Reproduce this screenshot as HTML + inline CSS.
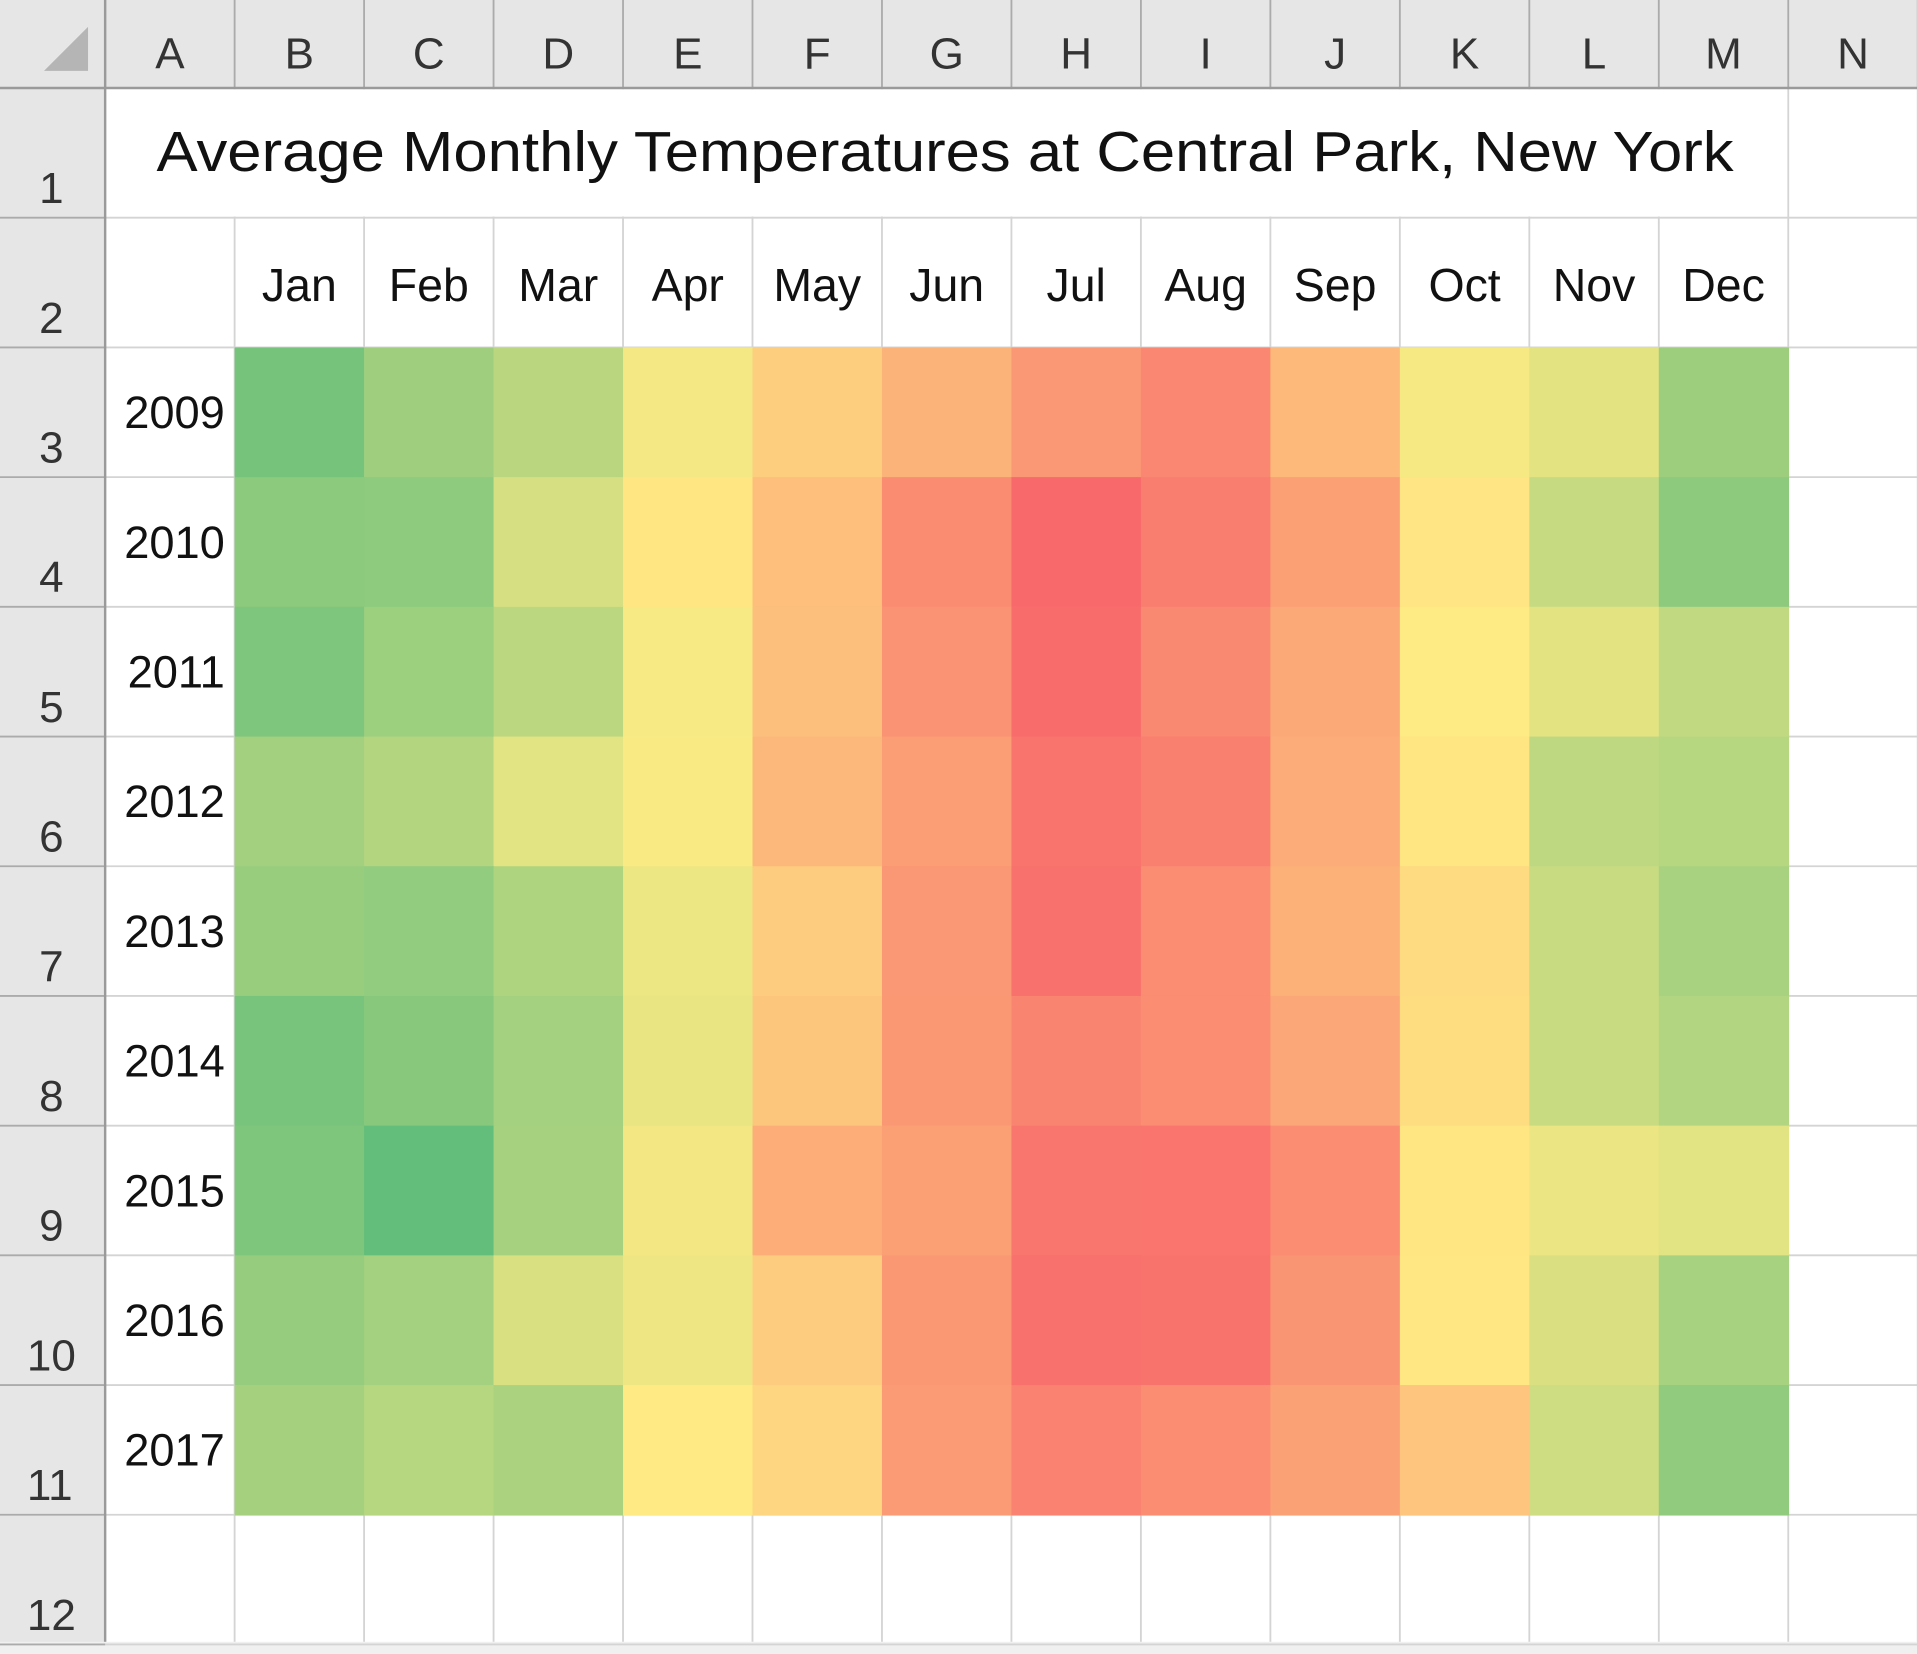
<!DOCTYPE html>
<html><head><meta charset="utf-8"><style>
html,body{margin:0;padding:0;background:#fff;}
svg{display:block;}
</style></head><body>
<svg id="sheet" width="1917" height="1654" viewBox="0 0 1568 1353" preserveAspectRatio="none" xmlns="http://www.w3.org/2000/svg" font-family="'Liberation Sans', sans-serif"></svg>
<script>
const months = ["Jan","Feb","Mar","Apr","May","Jun","Jul","Aug","Sep","Oct","Nov","Dec"];
const years = ["2009","2010","2011","2012","2013","2014","2015","2016","2017"];
const t2009 = [27.9,36.7,42.4,54.5,62.5,67.5,72.7,75.7,66.3,55.0,51.1,35.9];
const t2010 = [32.5,33.1,48.2,57.9,65.3,74.7,81.3,77.4,71.1,58.1,44.9,32.8];
const t2011 = [29.7,36.1,42.6,55.4,65.0,73.4,80.6,75.4,69.3,56.8,51.3,43.9];
const t2012 = [37.3,40.9,50.9,56.0,66.6,71.3,79.3,77.2,68.8,58.0,43.1,41.6];
const t2013 = [35.1,33.9,40.1,53.0,62.8,72.7,79.8,74.6,67.9,60.2,45.3,38.5];
const t2014 = [28.6,31.6,37.7,52.3,64.0,72.5,76.1,74.5,69.7,59.6,45.3,40.5];
const t2015 = [29.9,23.9,38.1,54.3,68.5,71.2,78.8,79.0,74.5,58.0,52.8,50.8];
const t2016 = [34.5,37.7,48.9,53.3,62.8,72.5,79.8,79.4,73.1,57.7,49.2,38.3];
const t2017 = [38.0,41.6,39.2,57.2,61.2,72.0,76.7,74.5,70.9,64.1,46.6,33.4];
const temps = [t2009,t2010,t2011,t2012,t2013,t2014,t2015,t2016,t2017];
const colLetters = ["A","B","C","D","E","F","G","H","I","J","K","L","M","N"];

const svg = document.getElementById('sheet');
const NS = "http://www.w3.org/2000/svg";
const RH = 86, HH = 72, CW = 105.9, RW = 106.1;
function mk(tag, attrs, parent){const e=document.createElementNS(NS,tag);for(const k in attrs)e.setAttribute(k,attrs[k]);(parent||svg).appendChild(e);return e;}
const colX = i => RH + i*CW;
const rowY = r => HH + (r-1)*RW;

const all = temps.flat().slice().sort((a,b)=>a-b);
const vmin = all[0], vmax = all[all.length-1];
const n = all.length, p = (n-1)*0.5, lo = Math.floor(p);
const vmid = all[lo] + (all[Math.ceil(p)]-all[lo])*(p-lo);
const G=[99,190,123], Y=[255,235,132], R=[248,105,107];
function mix(a,b,t){return 'rgb('+a.map((v,i)=>Math.round(v+(b[i]-v)*t)).join(',')+')';}
function color(v){return v<=vmid?mix(G,Y,(v-vmin)/(vmid-vmin)):mix(Y,R,(v-vmid)/(vmax-vmid));}

mk('rect',{x:0,y:0,width:1568,height:HH,fill:'#e6e6e6'});
mk('rect',{x:0,y:0,width:RH,height:1353,fill:'#e6e6e6'});
mk('rect',{x:0,y:1343,width:1568,height:10,fill:'#f0f0f0'});
const tri = mk('polygon',{points:'72,22 72,58 36,58',fill:'#b5b5b5'});



// gridlines
for(let i=0;i<=14;i++){
  const x=colX(i);
  mk('line',{x1:x,y1:HH,x2:x,y2:1343,stroke:'#d4d4d4','stroke-width':1.5});
  mk('line',{x1:x,y1:0,x2:x,y2:HH,stroke:'#ababab','stroke-width':1.5});
}
for(let r=1;r<=13;r++){
  const y=rowY(r);
  mk('line',{x1:RH,y1:y,x2:1568,y2:y,stroke:'#d4d4d4','stroke-width':1.5});
  mk('line',{x1:0,y1:y,x2:RH,y2:y,stroke:'#ababab','stroke-width':1.5});
}
mk('rect',{x:colX(0)+1,y:rowY(1)+1,width:colX(13)-colX(0)-2,height:RW-2,fill:'#fff'});

// heatmap cells over gridlines
temps.forEach((row,ri)=>{
  row.forEach((v,ci)=>{
    const c = mk('rect',{x:colX(ci+1),y:rowY(ri+3),width:CW+0.6,height:RW+0.6,fill:color(v)});
    
    
  });
});

mk('line',{x1:RH,y1:0,x2:RH,y2:1343,stroke:'#9a9a9a','stroke-width':2});
mk('line',{x1:0,y1:HH,x2:1568,y2:HH,stroke:'#9a9a9a','stroke-width':2});

colLetters.forEach((L,i)=>{
  const t=mk('text',{x:colX(i)+CW/2,y:56,'font-size':36,'text-anchor':'middle',fill:'#333'});
  t.textContent=L;
  
  
});
for(let r=1;r<=12;r++){
  const t=mk('text',{x:r>=10?22:32,y:rowY(r)+RW-12,'font-size':36,fill:'#333'});
  t.textContent=r;
  
  
}
const title=mk('text',{x:128,y:140,'font-size':46,fill:'#111',textLength:1290,lengthAdjust:'spacingAndGlyphs'});
title.textContent='Average Monthly Temperatures at Central Park, New York';


months.forEach((m,i)=>{
  const t=mk('text',{x:colX(i+1)+CW/2,y:rowY(2)+68,'font-size':38,'text-anchor':'middle',fill:'#111'});
  t.textContent=m;
  
  
});
years.forEach((y,i)=>{
  const t=mk('text',{x:colX(1)-8,y:rowY(i+3)+66,'font-size':37,'text-anchor':'end',fill:'#111'});
  t.textContent=y;
  
  
});
</script>
</body></html>
